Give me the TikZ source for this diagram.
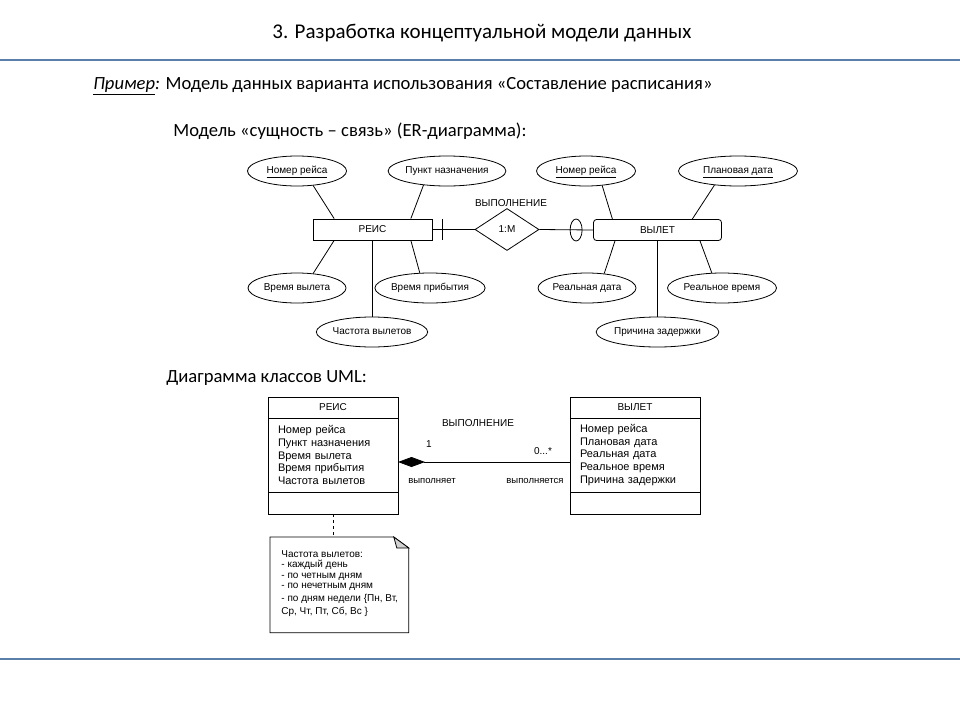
\documentclass[tikz,border=0pt]{standalone}
\usepackage{fontspec}
\setmainfont{Liberation Sans}
\newfontfamily\calibri{Carlito}
\usetikzlibrary{shapes,positioning,calc,arrows.meta}
\definecolor{rulecol}{RGB}{91,127,168}

\begin{document}
\begin{tikzpicture}[x=1pt, y=-1pt, line width=0.8pt, font=\fontsize{10}{12}\selectfont,
        attr/.style={draw, ellipse, minimum height=30pt, inner sep=0pt, text height=7pt, text depth=2pt},
        ent/.style={draw, minimum height=21pt, inner sep=0pt},
        cls/.style={draw, minimum width=130pt, inner sep=0pt, outer sep=0pt},
        attrlist/.style={align=left, text width=110pt, inner xsep=10pt, font=\fontsize{11}{12.6}\selectfont},
        heading/.style={anchor=west, inner sep=0pt, font=\calibri\fontsize{18.6}{22}\selectfont},
        small/.style={font=\fontsize{9.5}{11}\selectfont}]
    \useasboundingbox (0,0) rectangle (960,720);
    % headings
    \node[font=\calibri\fontsize{21}{25}\selectfont] (title) at (482,33) {3. Разработка концептуальной модели данных};
    \draw[rulecol, line width=2pt] (0,60) -- (960,60);
    \draw[rulecol, line width=2pt] (0,659) -- (960,659);
    \node[heading] (example) at (93,86) {\underline{\textit{Пример}}\textit{:} Модель данных варианта использования «Составление расписания»};
    \node[heading] (erhead) at (173,131) {Модель «сущность – связь» (ER-диаграмма):};
    \node[heading] (umlhead) at (166,378) {Диаграмма классов UML:};
    % ER diagram
    \node[ent, minimum width=119pt] (reis) at (372.5,229.5) {РЕИС};
    \node[ent, minimum width=128pt, rounded corners=3pt] (vylet) at (657.5,230) {ВЫЛЕТ};
    \node[draw, diamond, minimum width=64pt, minimum height=42pt, inner sep=0pt] (rel) at (507,229.5) {1:M};
    \node (relname) at (511,203) {ВЫПОЛНЕНИЕ};
    \foreach \nm/\x/\y/\w/\txt in {nra/297/171/99/{\underline{Номер рейса}}, pn/447/171/117/Пункт назначения,
        nrb/586/171/99/{\underline{Номер рейса}}, pd/738/171/119/{\underline{Плановая дата}},
        vv/297/288/98/Время вылета, vp/430/288/104/Время прибытия, cv/372/332/109/Частота вылетов,
        rd/587/288/98/Реальная дата, rv/722/288/109/Реальное время, pz/657.5/332/109/Причина задержки}
        \node[attr, minimum width=\w pt] (\nm) at (\x,\y) {\txt};
    \draw (nra.-42) -- ($(reis.north west)!0.18!(reis.north east)$);
    \draw (pn.-149) -- ($(reis.north west)!0.82!(reis.north east)$);
    \draw (vv.42) -- ($(reis.south west)!0.18!(reis.south east)$);
    \draw (vp.124) -- ($(reis.south west)!0.82!(reis.south east)$);
    \draw (cv.north) -- (cv.north |- reis.south);
    \draw (nrb.-42) -- ($(vylet.north west)!0.15!(vylet.north east)$);
    \draw (pd.-149) -- ($(vylet.north west)!0.77!(vylet.north east)$);
    \draw (rd.40) -- ($(vylet.south west)!0.17!(vylet.south east)$);
    \draw (rv.124) -- ($(vylet.south west)!0.83!(vylet.south east)$);
    \draw (pz.north) -- (pz.north |- vylet.south);
    \draw (reis.east) -- (rel.west);
    \draw ($(reis.east)+(10,-10.5)$) -- ++(0,21);
    \draw (rel.east) -- (vylet.west);
    \draw ($(vylet.west)+(-17,0)$) ellipse (6 and 11);
    % UML class diagram
    \node[cls, minimum height=21pt] (ureis) at (333,407.5) {РЕИС};
    \node[cls, attrlist, minimum height=74pt, below=0pt of ureis] (ureisA) {Номер рейса\\Пункт назначения\\Время вылета\\Время прибытия\\Частота вылетов};
    \node[cls, minimum height=22pt, below=0pt of ureisA] (ureisM) {};
    \node[cls, minimum height=21pt] (uvylet) at (635,407.5) {ВЫЛЕТ};
    \node[cls, attrlist, minimum height=74pt, below=0pt of uvylet] (uvyletA) {Номер рейса\\Плановая дата\\Реальная дата\\Реальное время\\Причина задержки};
    \node[cls, minimum height=22pt, below=0pt of uvyletA] (uvyletM) {};
    \coordinate (assoc) at (0,462);
    \draw[{Diamond[length=27pt, width=10pt]}-] (ureisA.east |- assoc) -- (uvyletA.west |- assoc);
    \node (assocname) at (478,423) {ВЫПОЛНЕНИЕ};
    \node (mult1) at (429,444) {1};
    \node (multn) at (543,451) {0...*};
    \node[small] (role1) at (432,481) {выполняет};
    \node[small] (role2) at (535,481) {выполняется};
    % note
    \node[minimum width=138pt, minimum height=95pt, inner sep=0pt, anchor=north west] (note) at (270,537) {};
    \draw (note.north west) -- ($(note.north east)+(-15,0)$) -- ($(note.north east)+(0,11)$) -- (note.south east) -- (note.south west) -- cycle;
    \filldraw[fill=gray!35] ($(note.north east)+(-15,0)$) -- ($(note.north east)+(-12,11)$) -- ($(note.north east)+(0,11)$) -- cycle;
    \draw[dashed] (ureisM.south) -- (ureisM.south |- note.north);
    \node[anchor=north west, align=left, inner sep=0pt, font=\fontsize{10}{10.5}\selectfont] (notetxt) at (281,550)
        {Частота вылетов:\\- каждый день\\- по четным дням\\- по нечетным дням\\[2pt]- по дням недели \{Пн, Вт,\\[3pt]Ср, Чт, Пт, Сб, Вс \}};
\end{tikzpicture}
\end{document}
